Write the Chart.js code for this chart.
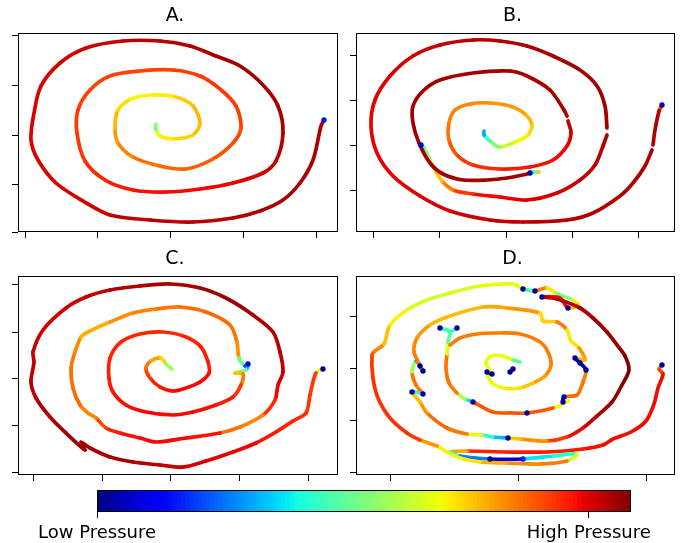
<!DOCTYPE html>
<html>
<head>
<meta charset="utf-8">
<script src="https://cdn.jsdelivr.net/npm/chart.js@4.4.1/dist/chart.umd.min.js"></script>
<style>
  html, body { margin: 0; padding: 0; background: #fff; }
  body { width: 681px; height: 543px; position: relative; overflow: hidden; }
  canvas { position: absolute; }
</style>
</head>
<body>
<canvas id="panelA" width="356" height="245" style="left:0;top:0"></canvas>
<canvas id="panelB" width="331" height="245" style="left:350px;top:0"></canvas>
<canvas id="panelC" width="356" height="245" style="left:0;top:243px"></canvas>
<canvas id="panelD" width="331" height="245" style="left:350px;top:243px"></canvas>
<canvas id="colorbar" width="681" height="63" style="left:0;top:480px"></canvas>
<script>
// ---------- track data: position (x, y) and pressure (0 = low, 1 = high) ----------
// null entries break the track

// A.
const aX = [306,303,295,282,265,242,215,175,132,92,65,38,20,13,16,23,42,68,105,142,172,198,222,245,260,265,258,245,215,182,148,115,87,67,59,60,72,92,122,155,182,202,218,223,215,195,168,142,115,100,97,100,113,135,158,175,182,175,155,142,138,138];
const aY = [112,106,72,49,32,21,14,10,12,17,31,49,72,92,119,146,169,184,191,191,186,176,166,147,126,99,71,59,49,43,40,42,52,71,99,122,142,156,161,162,156,143,126,104,89,73,63,66,75,89,104,122,133,137,135,126,109,97,93,96,102,108];
const aP = [0.15,0.96,0.96,0.96,0.97,0.96,0.96,0.95,0.95,0.94,0.93,0.92,0.92,0.92,0.92,0.92,0.93,0.93,0.94,0.95,0.96,0.97,0.97,0.97,0.97,0.96,0.95,0.93,0.91,0.9,0.9,0.89,0.88,0.86,0.85,0.85,0.84,0.84,0.84,0.84,0.85,0.85,0.85,0.84,0.83,0.82,0.81,0.8,0.78,0.76,0.74,0.69,0.66,0.64,0.68,0.71,0.72,0.7,0.67,0.65,0.6,0.42];

// B.
const bX = [306,305,303,299,297,null,296,289,277,264,237,211,167,134,94,64,37,21,15,19,34,57,84,117,144,171,197,224,241,249,251,null,251,247,239,224,201,171,144,117,97,86,79,73,68,65,null,
  183,180,177,174,171,151,131,107,87,74,63,57,57,67,84,117,154,171,194,208,211,null,212,215,211,197,174,144,117,101,93,93,99,114,134,157,171,176,171,157,143,134,128,128];
const bY = [127,125,121,102,87,null,82,66,49,36,19,12,10,12,21,36,56,79,106,132,156,176,187,192,191,186,176,162,146,126,104,null,97,86,67,52,39,32,35,38,42,51,62,74,84,87,null,
  60,60,60,59,58,54,52,52,58,69,89,109,126,141,152,159,161,156,142,122,116,null,111,99,86,72,65,63,67,77,92,109,122,128,129,125,116,106,96,89,85,91,97,101];
const bP = [0.03,0.75,0.96,0.96,0.96,null,0.96,0.96,0.96,0.96,0.96,0.96,0.95,0.94,0.93,0.92,0.91,0.91,0.91,0.91,0.92,0.93,0.94,0.95,0.96,0.96,0.97,0.97,0.97,0.97,0.97,null,0.96,0.96,0.95,0.94,0.93,0.92,0.91,0.89,0.82,0.74,0.66,0.56,0.45,0.08,null,
  0.78,0.62,0.38,0.03,0.97,0.97,0.97,0.97,0.97,0.97,0.97,0.97,0.97,0.97,0.97,0.97,0.97,0.96,0.97,0.97,0.96,null,0.95,0.93,0.91,0.9,0.89,0.88,0.86,0.84,0.8,0.78,0.77,0.77,0.76,0.75,0.73,0.7,0.66,0.63,0.56,0.46,0.38,0.2];

// C.
const cX = [305,302,298,295,292,288,275,258,238,215,188,165,142,115,92,72,63,67,48,32,18,13,16,15,25,48,68,92,122,152,182,208,235,255,262,265,260,257,245,222,202,168,138,122,102,88,78,70,62,55,53,57,63,70,92,115,138,162,188,212,219,221,227,230,228,217,225,223,215,198,175,155,128,108,95,91,92,103,122,145,168,183,190,191,182,168,155,142,132,128,133,143,148,154];
const cY = [106,105,102,93,80,62,54,43,32,23,14,8,10,13,18,27,33,25,42,58,77,93,113,123,145,167,178,185,189,191,187,177,160,143,123,103,90,75,60,48,42,37,33,37,42,47,57,62,70,87,107,123,138,143,153,162,166,168,163,150,133,117,109,111,105,102,101,90,78,70,63,60,63,70,83,97,117,133,141,143,138,128,113,102,93,87,84,88,97,107,114,117,111,106];
const cP = [0.03,0.4,0.85,0.85,0.85,0.86,0.87,0.88,0.9,0.91,0.92,0.93,0.95,0.96,0.97,0.97,0.97,0.97,0.97,0.96,0.95,0.95,0.94,0.94,0.93,0.93,0.94,0.95,0.96,0.96,0.97,0.98,0.97,0.95,0.95,0.94,0.92,0.89,0.84,0.7,0.88,0.9,0.9,0.9,0.89,0.87,0.8,0.74,0.8,0.8,0.79,0.78,0.75,0.7,0.75,0.77,0.78,0.79,0.8,0.8,0.78,0.74,0.2,0.08,0.3,0.68,0.72,0.84,0.87,0.89,0.9,0.9,0.9,0.9,0.89,0.88,0.88,0.87,0.87,0.87,0.87,0.88,0.88,0.89,0.9,0.9,0.9,0.89,0.87,0.82,0.76,0.72,0.64,0.45];

// D.
const dX = [306,303,307,302,298,290,275,257,247,227,191,151,111,94,104,134,167,197,221,211,184,151,124,104,91,81,64,51,34,22,17,16,19,28,34,51,71,94,124,157,167,172,179,191,201,209,217,222,212,204,186,201,224,237,251,261,269,273,266,256,241,227,211,191,164,152,137,126,111,91,71,64,56,61,67,60,56,60,64,67,58,61,74,94,127,151,184,187,201,211,215,223,229,219,224,230,227,221,208,207,212,197,171,157,137,117,109,101,93,90,91,92,94,84,null,101,96,null,94,104,121,141,164,184,192,195,189,177,164,147,135,131,136,130,135,147,157,164,null,154,157];
const dY = [110,106,101,87,71,54,43,36,30,26,23,23,24,23,19,16,16,19,21,14,11,12,13,17,23,29,35,42,57,77,97,120,124,131,150,165,175,182,189,191,186,185,184,187,181,178,175,170,167,177,178,176,167,157,143,130,119,105,90,73,59,47,38,34,36,37,38,40,41,47,62,73,83,83,81,90,103,114,109,104,123,137,150,159,168,167,162,154,153,145,134,127,115,117,112,105,93,80,78,73,74,67,62,62,63,73,76,82,92,107,121,133,143,147,null,147,144,null,130,137,141,142,141,133,123,110,99,92,87,87,93,103,101,112,119,119,115,113,null,103,106];
const dP = [0.02,0.78,0.9,0.9,0.9,0.9,0.9,0.9,0.9,0.89,0.88,0.88,0.87,0.6,0.25,0.02,0.15,0.35,0.45,0.78,0.78,0.75,0.7,0.62,0.64,0.66,0.84,0.86,0.86,0.86,0.86,0.85,0.8,0.74,0.67,0.63,0.6,0.6,0.62,0.63,0.02,0.45,0.02,0.78,0.55,0.42,0.62,0.7,0.02,0.9,0.02,0.95,0.96,0.97,0.98,0.98,0.99,1.0,0.99,0.98,0.96,0.92,0.88,0.82,0.7,0.03,0.3,0.5,0.76,0.8,0.8,0.7,0.04,0.4,0.04,0.78,0.8,0.3,0.03,0.02,0.78,0.76,0.73,0.7,0.72,0.74,0.76,0.6,0.78,0.78,0.55,0.78,0.72,0.02,0.04,0.02,0.78,0.8,0.03,0.04,0.45,0.82,0.02,0.82,0.82,0.03,0.35,0.78,0.78,0.8,0.78,0.5,0.42,0.02,null,0.02,0.4,null,0.78,0.78,0.78,0.78,0.78,0.78,0.78,0.78,0.76,0.72,0.68,0.65,0.63,0.04,0.02,0.64,0.63,0.64,0.62,0.3,null,0.02,0.02];

// axis extents and tick positions (unlabelled ticks)
const panelW = { A: 320, B: 319, C: 320, D: 319 };
const panelH = 199;
const aTicksX = [7, 79, 152, 225, 298],  aTicksY = [0, 48, 97, 147, 197];
const bTicksX = [17, 83, 150, 216, 282], bTicksY = [42, 87, 132, 176];
const cTicksX = [15, 84, 152, 221, 290], cTicksY = [3, 50, 97, 143, 190];
const dTicksX = [34, 162, 290],          dTicksY = [3, 55, 107, 159];

// colour bar
const colorbarTicks = [0, 0.921];
const colorbarLabels = ['Low Pressure', 'High Pressure'];
const levelCount = 128;

// ---------- jet colormap ----------
const jetStops = {
  r: [[0, 0], [0.35, 0], [0.66, 1], [0.89, 1], [1, 0.5]],
  g: [[0, 0], [0.125, 0], [0.375, 1], [0.64, 1], [0.91, 0], [1, 0]],
  b: [[0, 0.5], [0.11, 1], [0.34, 1], [0.65, 0], [1, 0]]
};

function channel(stops, v) {
  for (let i = 1; i < stops.length; i++) {
    if (v <= stops[i][0]) {
      const [x0, y0] = stops[i - 1];
      const [x1, y1] = stops[i];
      return y0 + (y1 - y0) * (v - x0) / (x1 - x0);
    }
  }
  return stops[stops.length - 1][1];
}

function jet(v) {
  v = Math.min(1, Math.max(0, v));
  const r = Math.round(channel(jetStops.r, v) * 255);
  const g = Math.round(channel(jetStops.g, v) * 255);
  const b = Math.round(channel(jetStops.b, v) * 255);
  return `rgb(${r},${g},${b})`;
}

// low-pressure samples show as dots; the line next to them keeps the other end's colour
function segmentPressure(p0, p1) {
  const lo = Math.min(p0, p1), hi = Math.max(p0, p1);
  if (lo < 0.2 && hi >= 0.2) return hi;
  return (p0 + p1) / 2;
}

// ---------- chart helpers ----------
Chart.defaults.font.family = "'DejaVu Sans', sans-serif";
Chart.defaults.color = '#000';

// black box round the plot area
const frameBox = {
  id: 'frameBox',
  afterDatasetsDraw(chart) {
    const a = chart.chartArea;
    const c = chart.ctx;
    c.save();
    c.strokeStyle = '#000';
    c.lineWidth = 1;
    c.strokeRect(Math.round(a.left) + 0.5, Math.round(a.top) + 0.5,
      Math.round(a.right - a.left) - 1, Math.round(a.bottom - a.top) - 1);
    c.restore();
  }
};

function plainAxis(max, ticks, horizontal) {
  return {
    type: 'linear', min: 0, max: max,
    border: { display: false },
    grid: { drawOnChartArea: false, drawTicks: true, tickLength: 6, color: '#000', lineWidth: 1 },
    ticks: { display: false },
    afterBuildTicks: s => { s.ticks = ticks.map(v => ({ value: v })); },
    afterFit: s => { if (horizontal) s.height = 6; else s.width = 6; }
  };
}

function drawPanel(id, title, xs, ys, ps, w, ticksX, ticksY, pad) {
  const pts = xs.map((x, i) => ({ x: x, y: ys[i] }));
  return new Chart(document.getElementById(id), {
    type: 'scatter',
    data: {
      datasets: [{
        data: pts,
        showLine: true,
        spanGaps: false,
        tension: 0.3,
        borderWidth: 3.7,
        borderCapStyle: 'round',
        borderJoinStyle: 'round',
        borderColor: jet(ps[0]),
        segment: {
          borderColor: ctx => jet(segmentPressure(ps[ctx.p0DataIndex], ps[ctx.p1DataIndex]))
        },
        pointRadius: ctx => (ps[ctx.dataIndex] !== null && ps[ctx.dataIndex] < 0.2 ? 2.7 : 0),
        pointBackgroundColor: ctx => jet(ps[ctx.dataIndex] || 0),
        pointBorderWidth: 0,
        pointHoverRadius: 0
      }]
    },
    options: {
      responsive: false,
      animation: false,
      events: [],
      layout: { padding: pad },
      plugins: {
        legend: { display: false },
        tooltip: { enabled: false },
        title: {
          display: true, text: title, color: '#000',
          font: { size: 19, weight: 'normal' },
          padding: { top: 4.5, bottom: 5.7 }
        }
      },
      scales: {
        x: plainAxis(w, ticksX, true),
        y: plainAxis(panelH, ticksY, false)
      }
    },
    plugins: [frameBox]
  });
}

const leftPad = { left: 12, right: 18, top: 0, bottom: 7 };
const rightPad = { left: 0, right: 6, top: 0, bottom: 7 };

drawPanel('panelA', 'A.', aX, aY, aP, panelW.A, aTicksX, aTicksY, leftPad);
drawPanel('panelB', 'B.', bX, bY, bP, panelW.B, bTicksX, bTicksY, rightPad);
drawPanel('panelC', 'C.', cX, cY, cP, panelW.C, cTicksX, cTicksY, leftPad);
drawPanel('panelD', 'D.', dX, dY, dP, panelW.D, dTicksX, dTicksY, rightPad);

// ---------- colour bar: stacked swatches along one horizontal bar ----------
const levelSets = [];
for (let i = 0; i < levelCount; i++) {
  levelSets.push({
    data: [1 / levelCount],
    backgroundColor: jet((i + 0.5) / levelCount),
    borderWidth: 0,
    inflateAmount: 0.4,
    barPercentage: 1,
    categoryPercentage: 1
  });
}

new Chart(document.getElementById('colorbar'), {
  type: 'bar',
  data: { labels: [''], datasets: levelSets },
  options: {
    indexAxis: 'y',
    responsive: false,
    animation: false,
    events: [],
    layout: { padding: { left: 97, right: 50, top: 10, bottom: 0 } },
    plugins: { legend: { display: false }, tooltip: { enabled: false } },
    scales: {
      x: {
        type: 'linear', stacked: true, min: 0, max: 1,
        border: { display: false },
        grid: { drawOnChartArea: false, drawTicks: true, tickLength: 6, color: '#000', lineWidth: 1 },
        ticks: {
          color: '#000', font: { size: 18 }, padding: 5,
          maxRotation: 0, autoSkip: false,
          callback: (v, i) => colorbarLabels[i]
        },
        afterBuildTicks: s => { s.ticks = colorbarTicks.map(v => ({ value: v })); },
        afterFit: s => { s.height = 31; }
      },
      y: { stacked: true, display: false }
    }
  },
  plugins: [frameBox]
});
</script>
</body>
</html>
